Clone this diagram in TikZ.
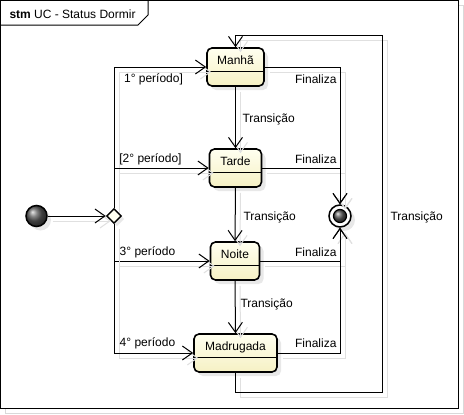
\documentclass[tikz,border=0pt]{standalone}
\usepackage{fontspec}
\setmainfont{Liberation Sans}
\usetikzlibrary{arrows.meta,shapes.geometric,shadows}
\definecolor{stfillA}{RGB}{255,255,240}
\definecolor{stfillB}{RGB}{246,241,196}
\begin{document}
\begin{tikzpicture}[x=1pt,y=-1pt,line width=1pt,
  every node/.style={font=\fontsize{12}{14}\selectfont},
  state/.style={draw,line width=1.6pt,rounded corners=5pt,minimum height=38pt,
    text height=9pt,text depth=14pt,inner xsep=4pt,top color=stfillA,bottom color=stfillB,
    drop shadow={shadow xshift=4pt,shadow yshift=-4pt,opacity=0.18}},
  conn/.style={draw,-{Straight Barb[length=10pt,width=14pt]},
    preaction={draw=black!12,transform canvas={shift={(5pt,-5pt)}}}},
  lbl/.style={inner sep=0pt},
  comp/.style={draw,line width=1pt},
  pseudo/.style={circle,draw,line width=1.5pt,inner sep=0pt,shading=ball,ball color=black!65}
]
\useasboundingbox (0,0) rectangle (464,415);
% frame with shadow
\draw[black!15] (5,5) rectangle (463.5,413.5);
\draw[fill=white] (0.5,0.5) rectangle (458.5,408.5);
\draw (0.5,25) -- (138,25) -- (148,15) -- (148,0.5);
\node[anchor=west,inner sep=0pt] (title) at (9,14) {\textbf{stm} UC - Status Dormir};

% states
\node[state,minimum width=57pt] (m) at (235.5,67) {Manhã};
\node[state,minimum width=52pt] (t) at (235.5,168) {Tarde};
\node[state,minimum width=49pt] (n) at (235,261) {Noite};
\node[state,minimum width=83pt] (d) at (235.5,353) {Madrugada};
\foreach \s in {m,t,n,d}{\draw[comp] ([yshift=-4pt]\s.west) -- ([yshift=-4pt]\s.east);}

% pseudo states
\node[pseudo,minimum size=21pt,drop shadow={shadow xshift=4pt,shadow yshift=-4pt,opacity=0.18}] (init) at (36.5,216) {};
\node[diamond,draw,line width=1.4pt,fill=stfillA,minimum width=15pt,minimum height=15pt,inner sep=0pt,
  drop shadow={shadow xshift=3pt,shadow yshift=-3pt,opacity=0.18}] (choice) at (114,216) {};
\node[circle,draw,line width=1.5pt,fill=white,minimum size=22pt,inner sep=0pt,
  drop shadow={shadow xshift=4pt,shadow yshift=-4pt,opacity=0.18}] (fin) at (340,216) {};
\node[pseudo,line width=1.2pt,minimum size=13pt] (finin) at (340,216) {};

\coordinate (lb) at (382,392);
\coordinate (lt) at (382,35);

% connectors
\draw[conn] (init) -- (choice.west);
\draw[conn] (choice.north) |- (m.west);
\draw[conn] (choice.north) |- (t.west);
\draw[conn] (choice.south) |- (n.west);
\draw[conn] (choice.south) |- (d.west);
\draw[conn] (m.south) -- (t.north);
\draw[conn] (t.south) -- (n.north);
\draw[conn] (n.south) -- (d.north);
\draw[conn] (m.east) -| (fin.north);
\draw[conn] (t.east) -| (fin.north);
\draw[conn] (n.east) -| (fin.south);
\draw[conn] (d.east) -| (fin.south);
\draw[conn] (d.south) |- (lb) -- (lt) -| (m.north);

% labels
\node[lbl] (l1) at (153.5,79) {1° período]};
\node[lbl] (l2) at (150.5,159) {[2° período]};
\node[lbl] (l3) at (147.5,252) {3° período};
\node[lbl] (l4) at (147.5,343) {4° período};
\node[lbl,anchor=east] (f1) at (337,79) {Finaliza};
\node[lbl,anchor=east] (f2) at (337,159) {Finaliza};
\node[lbl,anchor=east] (f3) at (337,252) {Finaliza};
\node[lbl,anchor=east] (f4) at (337,343) {Finaliza};
\node[lbl,anchor=west] (tr1) at (242,119) {Transição};
\node[lbl,anchor=west] (tr2) at (243,217) {Transição};
\node[lbl,anchor=west] (tr3) at (240,304) {Transição};
\node[lbl,anchor=west] (tr4) at (390,217) {Transição};
\end{tikzpicture}
\end{document}
